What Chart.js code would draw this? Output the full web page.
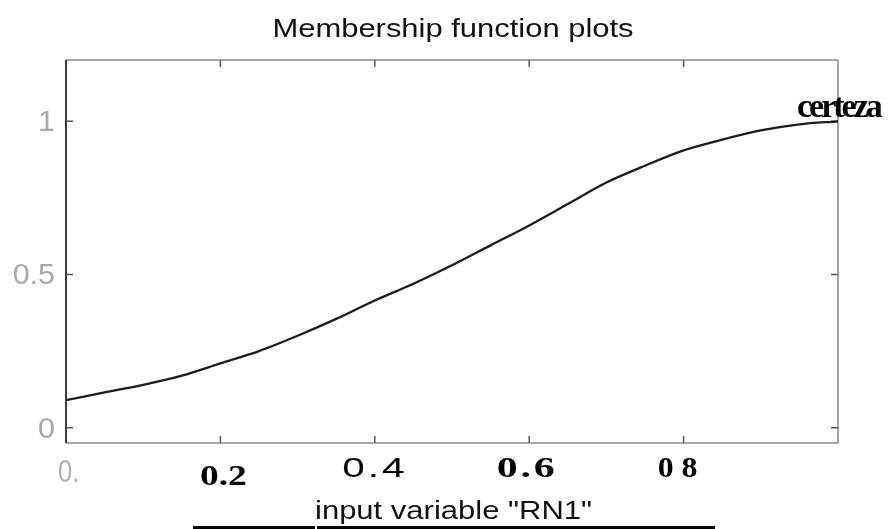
<!DOCTYPE html>
<html>
<head>
<meta charset="utf-8">
<script src="https://cdn.jsdelivr.net/npm/chart.js@4.4.1/dist/chart.umd.min.js"></script>
<style>
  body { margin: 0; background: #fff; }
</style>
</head>
<body>
<canvas id="mfChart" width="890" height="529"></canvas>
<script>
// input variable RN1
const inputValues = [0, 0.05, 0.1, 0.15, 0.2, 0.25, 0.3, 0.35, 0.4, 0.45, 0.5,
                     0.55, 0.6, 0.65, 0.7, 0.75, 0.8, 0.85, 0.9, 0.95, 1];
// membership degree of "certeza"
const certeza = [0.09, 0.115, 0.14, 0.17, 0.21, 0.25, 0.30, 0.355, 0.415, 0.47, 0.53,
                 0.595, 0.66, 0.73, 0.80, 0.855, 0.905, 0.94, 0.97, 0.99, 1.0];

const xTicks = [0, 0.2, 0.4, 0.6, 0.8];
const xTickLabels = ['0.', '0.2', '0.4', '0.6', '0 8'];
const yTicks = [0, 0.5, 1];
const yTickLabels = ['0', '0.5', '1'];

const titleText = 'Membership function plots';
const xTitle = 'input variable "RN1"';
const mfName = 'certeza';

// draw text squeezed / stretched horizontally like the scanned figure
function drawText(ctx, text, x, y, font, color, sx, align, spacing) {
    ctx.save();
    ctx.font = font;
    ctx.fillStyle = color;
    ctx.letterSpacing = (spacing || 0) + 'px';
    ctx.textBaseline = 'alphabetic';
    ctx.textAlign = 'left';
    let w = ctx.measureText(text).width * sx;
    let left = x;
    if (align === 'center') left = x - w / 2;
    if (align === 'right') left = x - w;
    ctx.translate(left, y);
    ctx.scale(sx, 1);
    ctx.fillText(text, 0, 0);
    ctx.restore();
}

const framePlugin = {
    id: 'frame',
    beforeDatasetsDraw(chart) {
        const ctx = chart.ctx;
        const a = chart.chartArea;
        const xs = chart.scales.x, ys = chart.scales.y;
        ctx.save();
        // box
        ctx.lineWidth = 1.5;
        ctx.strokeStyle = '#8a8a8a';
        ctx.beginPath();
        ctx.moveTo(a.left, a.top); ctx.lineTo(a.right, a.top);
        ctx.moveTo(a.right, a.top); ctx.lineTo(a.right, a.bottom);
        ctx.moveTo(a.left, a.bottom); ctx.lineTo(a.right, a.bottom);
        ctx.stroke();
        ctx.strokeStyle = '#3c3c3c';
        ctx.lineWidth = 2;
        ctx.beginPath();
        ctx.moveTo(a.left, a.top); ctx.lineTo(a.left, a.bottom);
        ctx.stroke();
        // inward ticks
        ctx.lineWidth = 1.5;
        ctx.strokeStyle = '#555';
        ctx.beginPath();
        yTicks.forEach(function(v) {
            let py = ys.getPixelForValue(v);
            ctx.moveTo(a.left, py); ctx.lineTo(a.left + 7, py);
            ctx.moveTo(a.right, py); ctx.lineTo(a.right - 7, py);
        });
        xTicks.forEach(function(v) {
            if (v === 0) return;
            let px = xs.getPixelForValue(v);
            ctx.moveTo(px, a.bottom); ctx.lineTo(px, a.bottom - 7);
            ctx.moveTo(px, a.top); ctx.lineTo(px, a.top + 7);
        });
        ctx.stroke();
        ctx.restore();
    },
    afterDraw(chart) {
        const ctx = chart.ctx;
        const a = chart.chartArea;
        const xs = chart.scales.x, ys = chart.scales.y;

        drawText(ctx, titleText, (a.left + a.right) / 2 + 1, 37, '26px "Liberation Sans"', '#111', 1.19, 'center');

        // y tick labels (faded grey in the scan)
        yTickLabels.forEach(function(t, i) {
            let py = ys.getPixelForValue(yTicks[i]);
            drawText(ctx, t, a.left - 11, py + 10, '29px "Liberation Sans"', '#a8a8a8', 1.05, 'right');
        });

        // x tick labels, mixed fonts like the original
        const xStyles = [
            { font: '32px "Liberation Sans"', color: '#b0b0b0', sx: 0.8, sp: 0, dy: 39, align: 'left', dx: -8 },
            { font: 'bold 30px "Liberation Serif"', color: '#000', sx: 1.25, sp: 0, dy: 42, align: 'center', dx: 3 },
            { font: '28px "Liberation Sans"', color: '#000', sx: 1.45, sp: 2, dy: 34, align: 'center', dx: 0 },
            { font: 'bold 30px "Liberation Serif"', color: '#000', sx: 1.4, sp: 2, dy: 34, align: 'center', dx: -2 },
            { font: 'bold 29px "Liberation Serif"', color: '#000', sx: 1.1, sp: 0, dy: 34, align: 'center', dx: -6 }
        ];
        xTickLabels.forEach(function(t, i) {
            let s = xStyles[i];
            let px = xs.getPixelForValue(xTicks[i]);
            drawText(ctx, t, px + s.dx, a.bottom + s.dy, s.font, s.color, s.sx, s.align, s.sp);
        });

        drawText(ctx, xTitle, 315, 519, '25px "Liberation Sans"', '#111', 1.24, 'left');

        // underline bar below the axis title
        ctx.save();
        ctx.fillStyle = '#000';
        ctx.fillRect(193, 526, 122, 3);
        ctx.fillRect(317, 526, 398, 3);
        ctx.restore();

        // name of the membership function at its end
        let endY = ys.getPixelForValue(certeza[certeza.length - 1]);
        drawText(ctx, mfName, a.right - 41, endY - 4, 'bold 34px "Liberation Serif"', '#000', 1.0, 'left', -3);
    }
};

const points = inputValues.map(function(x, i) {
    return { x: x, y: certeza[i] };
});

new Chart(document.getElementById('mfChart'), {
    type: 'line',
    data: {
        datasets: [{
            label: mfName,
            data: points,
            borderColor: '#1c1c1c',
            borderWidth: 2.3,
            pointRadius: 0,
            cubicInterpolationMode: 'monotone',
            fill: false
        }]
    },
    options: {
        responsive: false,
        animation: false,
        layout: { padding: { left: 66, right: 52, top: 60, bottom: 86 } },
        plugins: {
            legend: { display: false },
            tooltip: { enabled: false }
        },
        scales: {
            x: { type: 'linear', min: 0, max: 1, display: false },
            y: { type: 'linear', min: -0.05, max: 1.2, display: false }
        }
    },
    plugins: [framePlugin]
});
</script>
</body>
</html>
